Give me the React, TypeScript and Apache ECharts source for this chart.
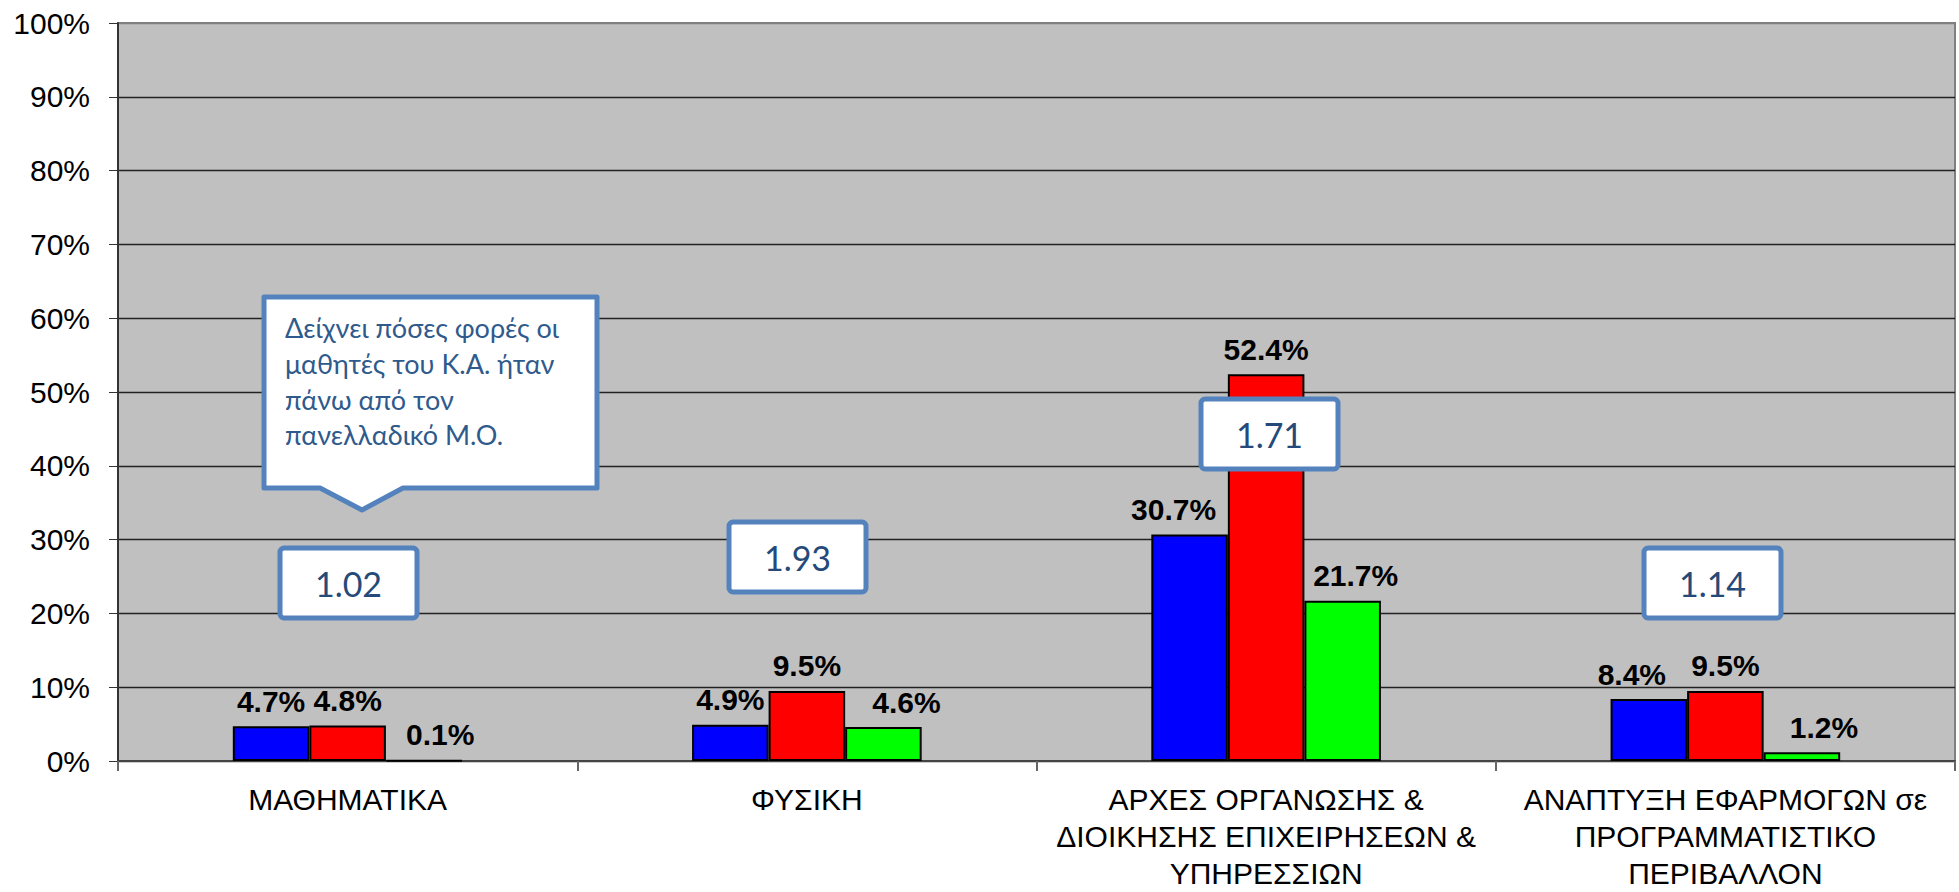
import React, { useEffect, useRef } from "react";
import * as echarts from "echarts";

const categories = [
  "ΜΑΘΗΜΑΤΙΚΑ",
  "ΦΥΣΙΚΗ",
  "ΑΡΧΕΣ ΟΡΓΑΝΩΣΗΣ &\nΔΙΟΙΚΗΣΗΣ ΕΠΙΧΕΙΡΗΣΕΩΝ &\nΥΠΗΡΕΣΣΙΩΝ",
  "ΑΝΑΠΤΥΞΗ ΕΦΑΡΜΟΓΩΝ σε\nΠΡΟΓΡΑΜΜΑΤΙΣΤΙΚΟ\nΠΕΡΙΒΑΛΛΟΝ",
];
const blueValues = [4.7, 4.9, 30.7, 8.4];
const redValues = [4.8, 9.5, 52.4, 9.5];
const greenValues = [0.1, 4.6, 21.7, 1.2];
const ratioLabels = ["1.02", "1.93", "1.71", "1.14"];
const calloutLines = [
  "Δείχνει πόσες φορές οι",
  "μαθητές του Κ.Α. ήταν",
  "πάνω από τον",
  "πανελλαδικό Μ.Ο.",
];

// label horizontal nudges (px), as placed in the original
const blueOffsets = [0, 0, -16, -17];
const redOffsets = [0, 0, 0, 0];
const greenOffsets = [16, 23, 13, 22];

// annotation box positions (px)
const ratioBoxes = [
  [280, 548],
  [729, 522],
  [1201, 399],
  [1644, 548],
];

export default function App() {
  const ref = useRef<HTMLDivElement>(null);
  useEffect(() => {
    const chart = echarts.init(ref.current!, undefined, { renderer: "svg" });
    const labelStyle = {
      show: true,
      position: "top" as const,
      distance: 10,
      fontFamily: "Liberation Sans, Arial, sans-serif",
      fontWeight: "bold" as const,
      fontSize: 30,
      color: "#000",
      formatter: (p: any) => p.value.toFixed(1) + "%",
    };
    const mk = (vals: number[], offs: number[], color: string) => ({
      type: "bar",
      data: vals.map((v, i) => ({ value: v, label: { offset: [offs[i], 0] } })),
      itemStyle: { color, borderColor: "#000", borderWidth: 2 },
      barGap: "0%",
      barCategoryGap: "50%",
      label: labelStyle,
    });
    const gridColors = [
      "#333", "#222", "#222", "#222", "#222", "#222", "#222", "#222", "#222", "#222", "#808080",
    ];
    const boxW = 137;
    const boxH = 70;
    const boxStroke = "#5482bd";
    const graphics: any[] = [];
    // callout
    graphics.push({
      type: "polygon",
      shape: {
        points: [
          [264, 297],
          [597, 297],
          [597, 488],
          [403, 488],
          [362, 510],
          [320, 488],
          [264, 488],
        ],
      },
      style: { fill: "#fff", stroke: boxStroke, lineWidth: 5, lineJoin: "round" },
      z: 100,
    });
    graphics.push({
      type: "text",
      x: 285,
      y: 310,
      style: {
        text: calloutLines.join("\n"),
        fontFamily: "Lato, Carlito, Calibri, sans-serif",
        fontSize: 27,
        lineHeight: 35.6,
        fill: "#2f5a8c",
      },
      z: 101,
    });
    ratioLabels.forEach((t, i) => {
      const [x, y] = ratioBoxes[i];
      graphics.push({
        type: "rect",
        shape: { x, y, width: boxW, height: boxH, r: 4 },
        style: { fill: "#fff", stroke: boxStroke, lineWidth: 5 },
        z: 100,
      });
      graphics.push({
        type: "text",
        x: x + boxW / 2,
        y: y + boxH / 2,
        style: {
          text: t,
          fontFamily: "Lato, Carlito, Calibri, sans-serif",
          fontSize: 34,
          fill: "#254a7a",
          align: "center",
          verticalAlign: "middle",
        },
        z: 101,
      });
    });
    chart.setOption({
      animation: false,
      backgroundColor: "#fff",
      grid: {
        left: 118,
        right: 4,
        top: 23,
        bottom: 125,
        show: true,
        backgroundColor: "#c0c0c0",
        borderColor: "#808080",
        borderWidth: 2,
      },
      xAxis: {
        type: "category",
        data: categories,
        axisLine: { show: true, lineStyle: { color: "#444", width: 2 } },
        axisTick: { show: true, length: 10, lineStyle: { color: "#666", width: 2 } },
        axisLabel: {
          margin: 20,
          fontFamily: "Liberation Sans, Arial, sans-serif",
          fontSize: 30,
          lineHeight: 37,
          color: "#000",
          interval: 0,
        },
      },
      yAxis: {
        type: "value",
        min: 0,
        max: 100,
        interval: 10,
        axisLine: { show: true, lineStyle: { color: "#333", width: 2 } },
        axisTick: { show: true, length: 9, lineStyle: { color: "#333", width: 1 } },
        axisLabel: {
          margin: 28,
          fontFamily: "Liberation Sans, Arial, sans-serif",
          fontSize: 30,
          color: "#000",
          formatter: "{value}%",
        },
        splitLine: { show: true, lineStyle: { color: gridColors, width: 1.3 } },
      },
      series: [
        mk(blueValues, blueOffsets, "#0000ff"),
        mk(redValues, redOffsets, "#ff0000"),
        mk(greenValues, greenOffsets, "#00ff00"),
      ],
      graphic: graphics,
    });
    return () => chart.dispose();
  }, []);
  return (
    <div
      ref={ref}
      style={{ position: "absolute", left: 0, top: 0, width: 1959, height: 892 }}
    />
  );
}
